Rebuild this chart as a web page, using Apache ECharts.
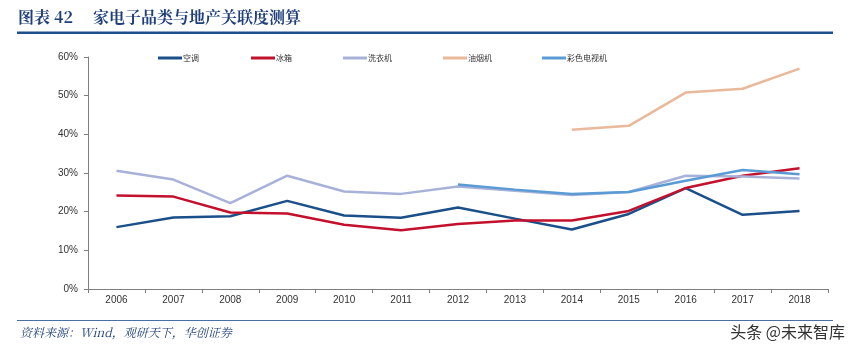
<!DOCTYPE html>
<html><head><meta charset="utf-8">
<script src="https://cdn.jsdelivr.net/npm/echarts@6/dist/echarts.min.js"></script>
<style>html,body{margin:0;padding:0;background:#fff}#c{width:851px;height:355px}</style>
</head><body><div id="c"></div>
<script>
var categories = ['2006','2007','2008','2009','2010','2011','2012','2013','2014','2015','2016','2017','2018'];
var seriesNames = ['空调','冰箱','洗衣机','油烟机','彩色电视机'];
var airCon   = [16.0,18.5,18.8,22.8,19.0,18.4,21.1,18.2,15.4,19.4,26.1,19.2,20.2];
var fridge   = [24.2,23.9,19.8,19.5,16.6,15.2,16.8,17.7,17.7,20.2,26.1,29.3,31.2];
var washer   = [30.6,28.3,22.2,29.3,25.2,24.6,26.5,25.4,24.3,25.1,29.3,29.1,28.6];
var rangeHood= [null,null,null,null,null,null,null,null,41.2,42.2,50.8,51.8,57.0];
var colorTV  = [null,null,null,null,null,null,27.0,25.7,24.6,25.1,28.0,30.8,29.7];
var yTicks = [0,10,20,30,40,50,60];
var titleLabel = '图表 42';
var titleText = '家电子品类与地产关联度测算';
var sourceText = '资料来源：Wind，观研天下，华创证券';
var watermark = '头条 @未来智库';

var colors = ['#1B4F8A','#C3102C','#A8B2D8','#E9B99B','#5B9BD5'];
var dataArr = [airCon, fridge, washer, rangeHood, colorTV];
var legendLeft = [153, 246, 338, 438, 537];

var chart = echarts.init(document.getElementById('c'), null, {renderer:'canvas'});
var legends = seriesNames.map(function(n,i){
  return {data:[n], left:legendLeft[i], top:49, itemWidth:24, itemHeight:3, itemGap:2,
    icon:'rect', textStyle:{fontSize:8, color:'#333', padding:[0,0,0,-4], fontFamily:'Noto Sans CJK SC'}};
});
var series = seriesNames.map(function(n,i){
  return {name:n, type:'line', data:dataArr[i], symbol:'none', lineStyle:{width:2.5, color:colors[i]},
    itemStyle:{color:colors[i]}, connectNulls:false, z: (i===4?5:3)};
});
chart.setOption({
  animation:false,
  textStyle:{fontFamily:'Liberation Sans, Arial, sans-serif'},
  legend: legends,
  grid:{left:88, right:23, top:57, bottom:66, containLabel:false},
  xAxis:{type:'category', data:categories, boundaryGap:true,
    axisLine:{lineStyle:{color:'#7f7f7f', width:1}},
    axisTick:{show:true, inside:false, length:4, lineStyle:{color:'#7f7f7f'}},
    axisLabel:{fontSize:10, color:'#333', margin:6}},
  yAxis:{type:'value', min:yTicks[0], max:yTicks[yTicks.length-1], interval:10,
    axisLine:{show:true, lineStyle:{color:'#7f7f7f'}},
    axisTick:{show:true, length:4, lineStyle:{color:'#7f7f7f'}},
    splitLine:{show:false},
    axisLabel:{fontSize:10, color:'#333', margin:10, formatter:'{value}%'}},
  graphic:[
    {type:'text', left:18, top:9, style:{text:titleLabel, font:'bold 16px "Noto Serif CJK SC", "Noto Sans CJK SC", serif', fill:'#1F3F7A'}},
    {type:'text', left:93, top:9, style:{text:titleText, font:'bold 16px "Noto Serif CJK SC", "Noto Sans CJK SC", serif', fill:'#1F3F7A'}},
    {type:'rect', shape:{x:17, y:31.5, width:816, height:2.5}, style:{fill:'#1F4E8C'}},
    {type:'rect', shape:{x:17, y:320, width:816, height:1}, style:{fill:'#4A6FA5'}},
    {type:'text', left:20, top:326, style:{text:sourceText, font:'italic 12px "Noto Serif CJK SC", "Noto Sans CJK SC", serif', fill:'#1F3F7A'}},
    {type:'text', right:6, top:324, style:{text:watermark, font:'16px "Noto Sans CJK SC", sans-serif', fill:'#333'}}
  ],
  series: series
});
</script></body></html>
